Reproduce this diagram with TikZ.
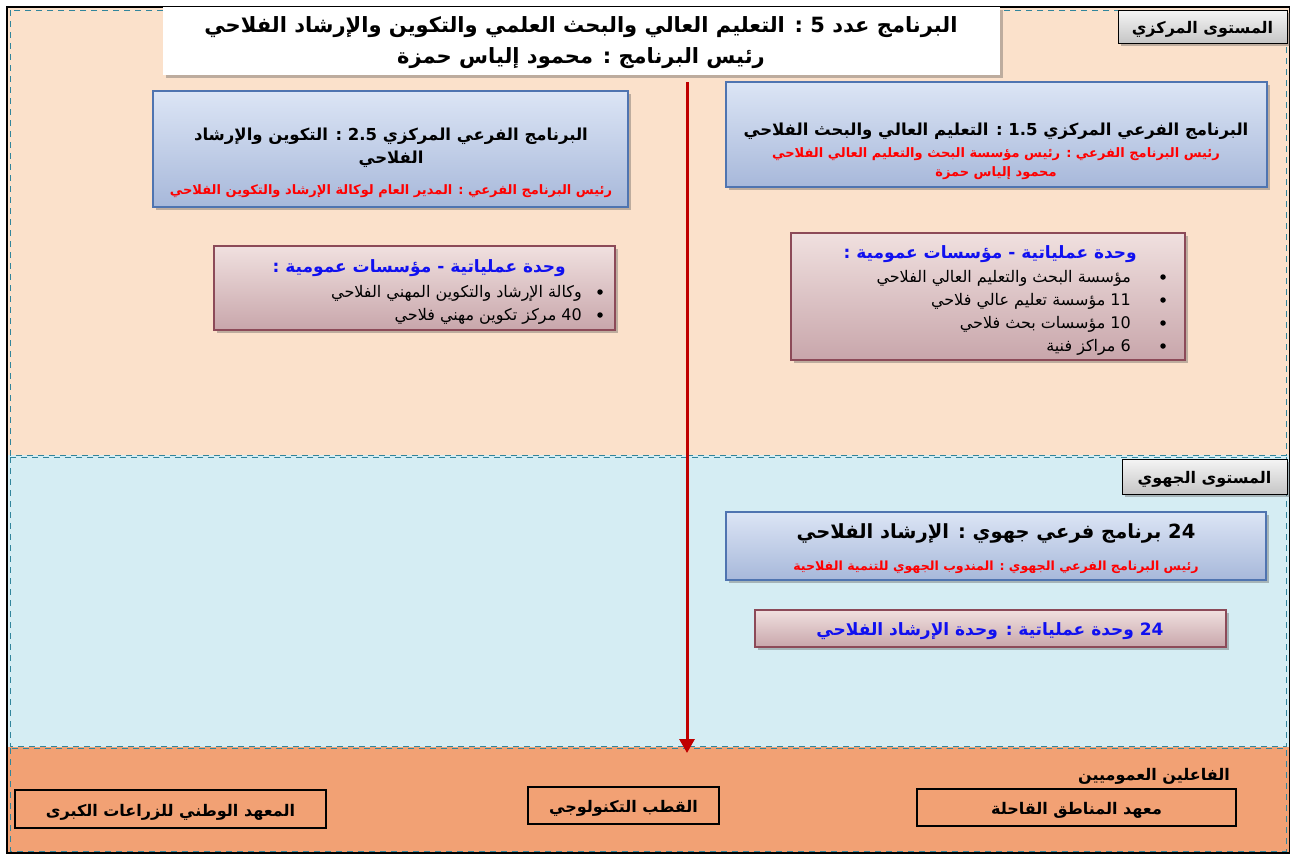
\documentclass[tikz,border=0pt]{standalone}
\usepackage{fontspec}
\setmainfont{DejaVu Sans}
\newfontfamily\ar[Script=Arabic]{DejaVu Sans}
\TeXXeTstate=1
\usetikzlibrary{shadows,arrows.meta}
\definecolor{peach}{HTML}{FBE1CB}
\definecolor{lblue}{HTML}{D5EDF3}
\definecolor{orng}{HTML}{F2A174}
\definecolor{teal}{HTML}{31859C}
\definecolor{bluetop}{HTML}{DCE5F5}
\definecolor{bluebot}{HTML}{A7B8DA}
\definecolor{blueedge}{HTML}{4F74B0}
\definecolor{pinktop}{HTML}{F0E0DF}
\definecolor{pinkbot}{HTML}{C8A6AB}
\definecolor{pinkedge}{HTML}{8C4A58}
\definecolor{arrowred}{HTML}{C00000}
\definecolor{txtblue}{HTML}{1010F0}
\newcommand{\AR}[1]{{\ar\beginR #1\endR}}
\tikzset{
  zone/.style={draw=teal, line width=0.8pt, dash pattern=on 6pt off 5pt},
  shad/.style={drop shadow={shadow xshift=2.5pt, shadow yshift=-2.5pt, opacity=0.35, fill=black!70}},
  bluebox/.style={rectangle, draw=blueedge, line width=1.2pt, top color=bluetop, bottom color=bluebot, shad, inner sep=0pt},
  pinkbox/.style={rectangle, draw=pinkedge, line width=1.2pt, top color=pinktop, bottom color=pinkbot, shad, inner sep=0pt},
  levelbox/.style={rectangle, draw=black, line width=1pt, top color=gray!8, bottom color=gray!45, shad, inner sep=0pt},
  actorbox/.style={rectangle, draw=black, line width=1.2pt, inner sep=0pt},
  txt/.style={inner sep=0pt, yshift=-3pt},
  boldtxt/.style={txt, font=\fontsize{16}{18}\selectfont\bfseries},
  item/.style={txt, anchor=east, font=\fontsize{16}{18}\selectfont},
  bul/.style={circle, fill=black, inner sep=0pt, minimum size=5.5pt},
  head/.style={txt, font=\fontsize{16.5}{19}\selectfont\bfseries},
  redl/.style={txt, font=\fontsize{13}{15}\selectfont\bfseries, text=red},
}
\begin{document}
\begin{tikzpicture}[x=1pt,y=-1pt]
\useasboundingbox (0,0) rectangle (1290,855);
% zones
\fill[peach] (7,7) rectangle (1289,455);
\fill[lblue] (7,455) rectangle (1289,747);
\fill[orng] (7,747) rectangle (1289,853);
\draw[zone] (10,10) rectangle (1286,455);
\draw[zone] (10,457) rectangle (1286,746);
\draw[zone] (10,748) rectangle (1286,851);
\draw[black, line width=2pt] (7,7) rectangle (1290,853);
% title
\node[rectangle, fill=white, shad, minimum width=837pt, minimum height=68pt, inner sep=0pt] (titlebox) at (581.5,41) {};
\node[txt, font=\fontsize{21}{24}\selectfont\bfseries] (title1) at (581,24) {\AR{البرنامج عدد 5 : التعليم العالي والبحث العلمي والتكوين والإرشاد الفلاحي}};
\node[txt, font=\fontsize{21}{24}\selectfont\bfseries] (title2) at (581,55) {\AR{رئيس البرنامج : محمود إلياس حمزة}};
% level labels
\node[levelbox, minimum width=169pt, minimum height=33pt] (lvl1) at (1202.5,26.5) {};
\node[boldtxt] (lvl1t) at (1202.5,26.5) {\AR{المستوى المركزي}};
\node[levelbox, minimum width=165pt, minimum height=35pt] (lvl2) at (1204.5,476.5) {};
\node[boldtxt] (lvl2t) at (1204.5,476.5) {\AR{المستوى الجهوي}};
% sub-programme 1.5
\node[bluebox, minimum width=541pt, minimum height=105pt] (b15) at (996.5,134.5) {};
\node[head] (b15t) at (996,128) {\AR{البرنامج الفرعي المركزي 1.5 : التعليم العالي والبحث الفلاحي}};
\node[redl] (b15r1) at (996,151) {\AR{رئيس البرنامج الفرعي : رئيس مؤسسة البحث والتعليم العالي الفلاحي}};
\node[redl] (b15r2) at (996,170) {\AR{محمود إلياس حمزة}};
% sub-programme 2.5
\node[bluebox, minimum width=475pt, minimum height=116pt] (b25) at (390.5,149) {};
\node[head] (b25t1) at (391,133) {\AR{البرنامج الفرعي المركزي 2.5 : التكوين والإرشاد}};
\node[head] (b25t2) at (391,156) {\AR{الفلاحي}};
\node[redl] (b25r) at (391,188) {\AR{رئيس البرنامج الفرعي : المدير العام لوكالة الإرشاد والتكوين الفلاحي}};
% operational unit right
\node[pinkbox, minimum width=394pt, minimum height=127pt] (u1) at (988,296.5) {};
\node[txt, anchor=east, font=\fontsize{17}{19}\selectfont\bfseries, text=txtblue] (u1t) at (1137,251) {\AR{وحدة عملياتية - مؤسسات عمومية :}};
\node[item] (u1a) at (1131,275) {\AR{مؤسسة البحث والتعليم العالي الفلاحي}};
\node[item] (u1b) at (1131,298) {\AR{11 مؤسسة تعليم عالي فلاحي}};
\node[item] (u1c) at (1131,321) {\AR{10 مؤسسات بحث فلاحي}};
\node[item] (u1d) at (1131,344) {\AR{6 مراكز فنية}};
\node[bul] (u1ba) at (1163,277) {};
\node[bul] (u1bb) at (1163,300) {};
\node[bul] (u1bc) at (1163,323) {};
\node[bul] (u1bd) at (1163,346) {};
% operational unit left
\node[pinkbox, minimum width=401pt, minimum height=84pt] (u2) at (414.5,288) {};
\node[txt, anchor=east, font=\fontsize{17}{19}\selectfont\bfseries, text=txtblue] (u2t) at (566,265) {\AR{وحدة عملياتية - مؤسسات عمومية :}};
\node[item] (u2a) at (582,290) {\AR{وكالة الإرشاد والتكوين المهني الفلاحي}};
\node[item] (u2b) at (582,313) {\AR{40 مركز تكوين مهني فلاحي}};
\node[bul] (u2ba) at (600,292) {};
\node[bul] (u2bb) at (600,315) {};
% regional
\node[bluebox, minimum width=540pt, minimum height=68pt] (reg) at (996,546) {};
\node[txt, font=\fontsize{19.5}{22}\selectfont\bfseries] (regt) at (996,530) {\AR{24 برنامج فرعي جهوي : الإرشاد الفلاحي}};
\node[redl, font=\fontsize{12.6}{15}\selectfont\bfseries] (regr) at (996,564) {\AR{رئيس البرنامج الفرعي الجهوي : المندوب الجهوي للتنمية الفلاحية}};
\node[pinkbox, minimum width=471pt, minimum height=37pt] (ru) at (990.5,628.5) {};
\node[txt, font=\fontsize{17}{19}\selectfont\bfseries, text=txtblue] (rut) at (990,628) {\AR{24 وحدة عملياتية : وحدة الإرشاد الفلاحي}};
% public actors
\node[boldtxt, anchor=east] (act) at (1230,773) {\AR{الفاعلين العموميين}};
\node[actorbox, minimum width=319pt, minimum height=37pt] (a1) at (1076.5,807.5) {};
\node[boldtxt] (a1t) at (1076.5,807.5) {\AR{معهد المناطق القاحلة}};
\node[actorbox, minimum width=191pt, minimum height=37pt] (a2) at (623.5,805.5) {};
\node[boldtxt] (a2t) at (623.5,805.5) {\AR{القطب التكنولوجي}};
\node[actorbox, minimum width=311pt, minimum height=38pt] (a3) at (170.5,809) {};
\node[boldtxt] (a3t) at (170.5,809) {\AR{المعهد الوطني للزراعات الكبرى}};
% arrow
\coordinate (arrowend) at (687,753);
\draw[arrowred, line width=3pt, -{Triangle[length=14pt,width=15pt]}] ([yshift=-7pt]titlebox.south -| arrowend) -- (arrowend);
\end{tikzpicture}
\end{document}
